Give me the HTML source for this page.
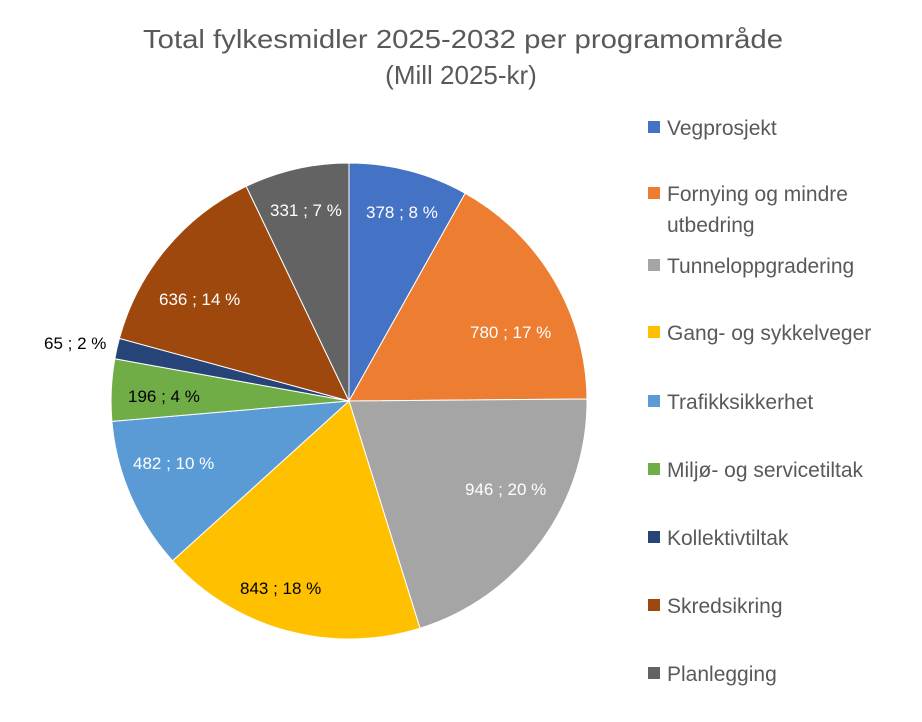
<!DOCTYPE html>
<html><head><meta charset="utf-8"><style>
html,body{margin:0;padding:0;background:#fff;}
svg{display:block;font-family:"Liberation Sans",sans-serif;}
</style></head><body>
<svg width="922" height="722" viewBox="0 0 922 722">
<rect width="922" height="722" fill="#fff"/>
<text x="143" y="48" textLength="640" lengthAdjust="spacingAndGlyphs" font-size="26" fill="#595959">Total fylkesmidler 2025-2032 per programområde</text>
<text x="461" y="84" text-anchor="middle" font-size="26" fill="#595959">(Mill 2025-kr)</text>
<g stroke="#fff" stroke-width="1">
<path d="M349,401 L349,163 A238,238 0 0 1 465.2,193.3 Z" fill="#4472C4"/>
<path d="M349,401 L465.2,193.3 A238,238 0 0 1 587,399 Z" fill="#ED7D31"/>
<path d="M349,401 L587,399 A238,238 0 0 1 420,628.2 Z" fill="#A5A5A5"/>
<path d="M349,401 L420,628.2 A238,238 0 0 1 172.6,560.8 Z" fill="#FFC000"/>
<path d="M349,401 L172.6,560.8 A238,238 0 0 1 111.9,421.4 Z" fill="#5B9BD5"/>
<path d="M349,401 L111.9,421.4 A238,238 0 0 1 114.8,358.8 Z" fill="#70AD47"/>
<path d="M349,401 L114.8,358.8 A238,238 0 0 1 119.4,338.4 Z" fill="#264478"/>
<path d="M349,401 L119.4,338.4 A238,238 0 0 1 246.2,186.3 Z" fill="#9E480E"/>
<path d="M349,401 L246.2,186.3 A238,238 0 0 1 349,163 Z" fill="#636363"/>
</g>
<g font-size="17" fill="#fff">
<text x="366" y="218">378 ; 8 %</text>
<text x="470" y="338">780 ; 17 %</text>
<text x="465" y="495">946 ; 20 %</text>
<text x="240" y="594" fill="#000">843 ; 18 %</text>
<text x="133" y="469">482 ; 10 %</text>
<text x="128" y="402" fill="#000">196 ; 4 %</text>
<text x="44" y="349" fill="#000">65 ; 2 %</text>
<text x="159" y="305">636 ; 14 %</text>
<text x="270" y="216">331 ; 7 %</text>
</g>
<g font-size="21" fill="#595959">
<rect x="648" y="121" width="12" height="12" fill="#4472C4"/><text x="667" y="135">Vegprosjekt</text>
<rect x="648" y="187" width="12" height="12" fill="#ED7D31"/><text x="667" y="201">Fornying og mindre</text><text x="667" y="232">utbedring</text>
<rect x="648" y="259" width="12" height="12" fill="#A5A5A5"/><text x="667" y="273">Tunneloppgradering</text>
<rect x="648" y="326" width="12" height="12" fill="#FFC000"/><text x="667" y="340">Gang- og sykkelveger</text>
<rect x="648" y="395" width="12" height="12" fill="#5B9BD5"/><text x="667" y="409">Trafikksikkerhet</text>
<rect x="648" y="463" width="12" height="12" fill="#70AD47"/><text x="667" y="477">Miljø- og servicetiltak</text>
<rect x="648" y="531" width="12" height="12" fill="#264478"/><text x="667" y="545">Kollektivtiltak</text>
<rect x="648" y="599" width="12" height="12" fill="#9E480E"/><text x="667" y="613">Skredsikring</text>
<rect x="648" y="667" width="12" height="12" fill="#636363"/><text x="667" y="681">Planlegging</text>
</g>
</svg>
</body></html>
